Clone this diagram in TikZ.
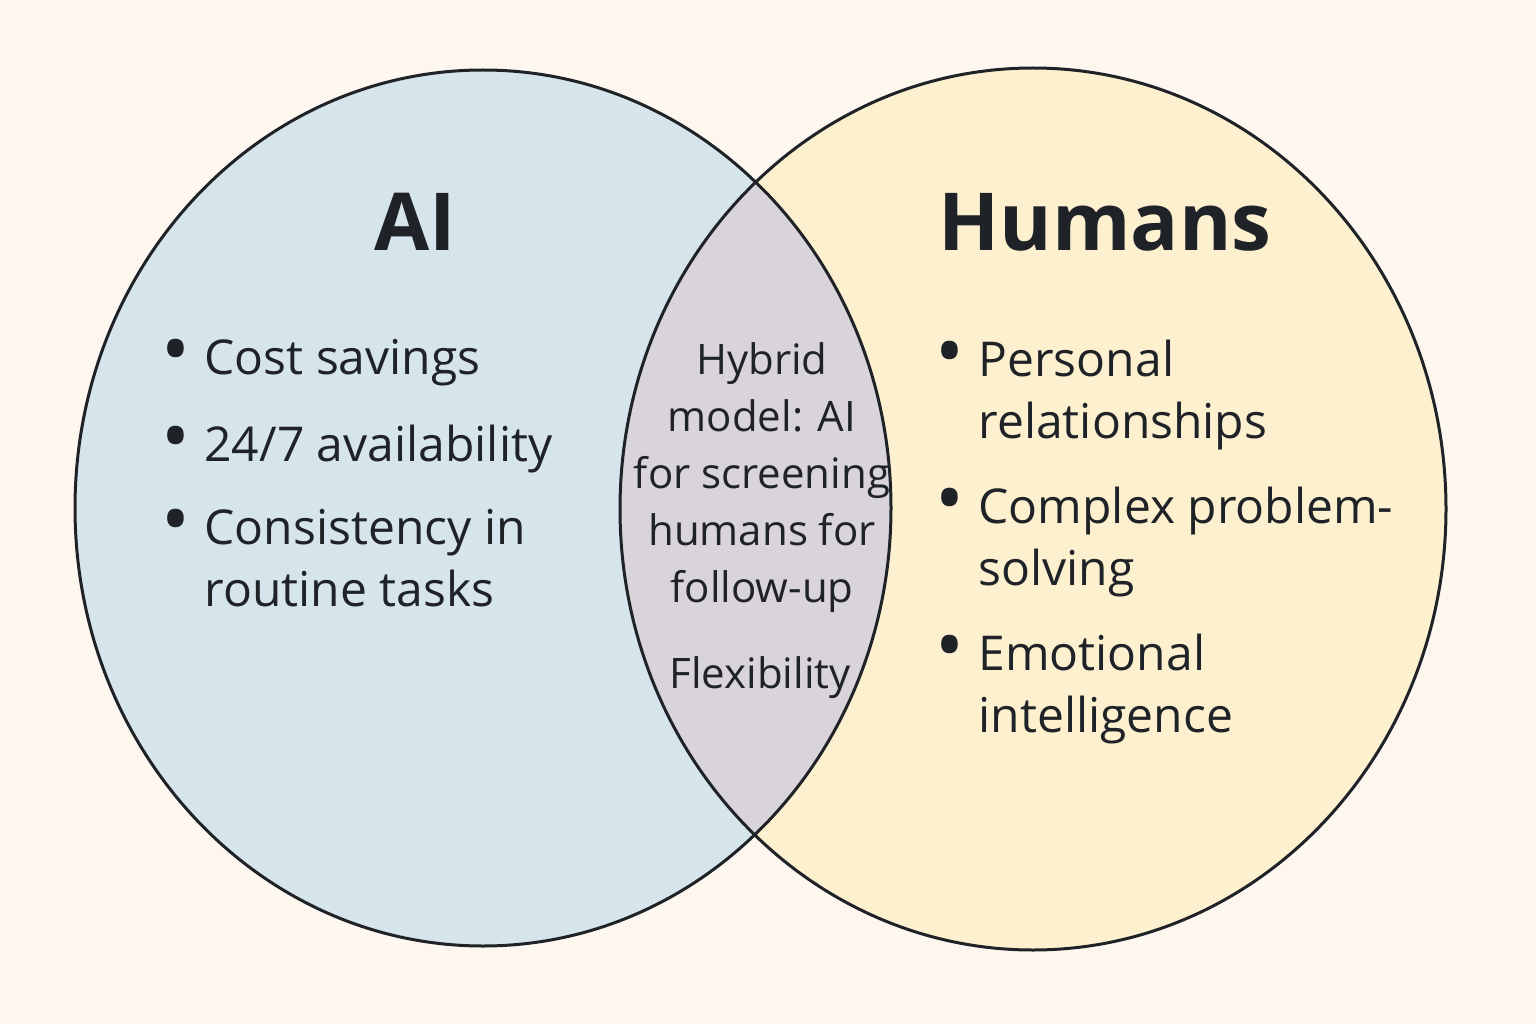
\documentclass[tikz,border=0pt]{standalone}
\usepackage{fontspec}
\setmainfont{Open Sans}
\definecolor{bg}{HTML}{FDF7F0}
\definecolor{lfill}{HTML}{D6E4EC}
\definecolor{rfill}{HTML}{FDF0CF}
\definecolor{ofill}{HTML}{D9D3DA}
\definecolor{ink}{HTML}{1F2328}
\newcommand{\bul}{\makebox[43pt][l]{\raisebox{-2pt}{\scalebox{1.6}{•}}}}
\newcommand{\ind}{\hspace*{43pt}}
\begin{document}
\begin{tikzpicture}[x=1pt,y=-1pt,
  title/.style={font=\fontsize{80}{90}\selectfont\bfseries,text=ink},
  item/.style={font=\fontsize{48}{62}\selectfont,text=ink,anchor=north west,align=left},
  mid/.style={font=\fontsize{42}{57}\selectfont,text=ink,align=center}]
\fill[bg] (0,0) rectangle (1536,1024);
\useasboundingbox (0,0) rectangle (1536,1024);
\fill[lfill] (483,508) ellipse [x radius=408,y radius=438];
\fill[rfill] (1033,509) ellipse [x radius=413,y radius=441];
\begin{scope}
\clip (483,508) ellipse [x radius=408,y radius=438];
\fill[ofill] (1033,509) ellipse [x radius=413,y radius=441];
\end{scope}
\draw[ink,line width=3] (483,508) ellipse [x radius=408,y radius=438];
\draw[ink,line width=3] (1033,509) ellipse [x radius=413,y radius=441];
\node[title] (ai) at (415,222) {AI};
\node[title] (hu) at (1105,222) {Humans};
\node[item] (l1) at (158,336) {\bul Cost savings};
\node[item] (l2) at (158,421) {\bul 24/7 availability};
\node[item] (l3) at (158,506) {\bul Consistency in\\\ind routine tasks};
\node[item] (r1) at (932,336) {\bul Personal\\\ind relationships};
\node[item] (r2) at (932,483) {\bul Complex problem-\\\ind solving};
\node[item] (r3) at (932,630) {\bul Emotional\\\ind intelligence};
\node[mid] (m1) at (762,478) {Hybrid\\model: AI\\for screening\\humans for\\follow-up};
\node[mid] (m2) at (760,678) {Flexibility};
\end{tikzpicture}
\end{document}
